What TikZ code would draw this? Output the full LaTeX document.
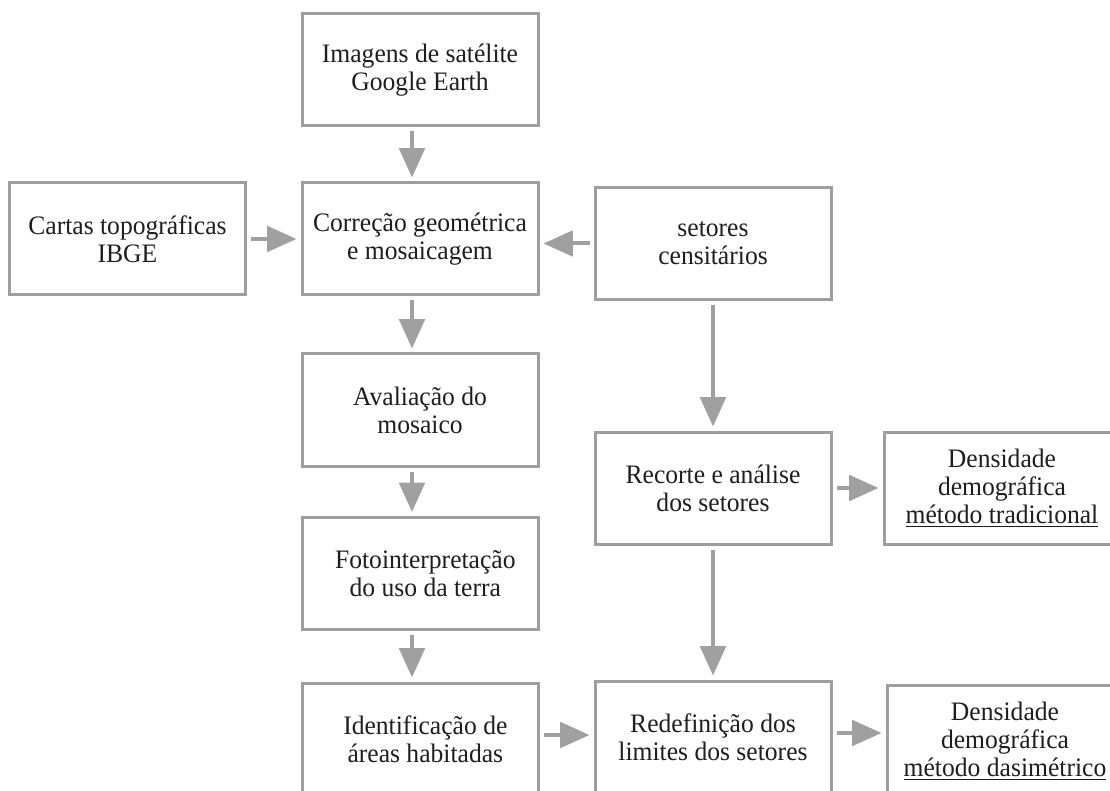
\documentclass[tikz,border=0pt]{standalone}
\usepackage{fontspec}
\setmainfont[FakeStretch=0.96]{Liberation Serif}
\usetikzlibrary{arrows.meta}
\definecolor{boxgray}{RGB}{158,158,158}
\definecolor{arrowgray}{RGB}{160,160,160}
\definecolor{txtgray}{RGB}{30,30,30}

\begin{document}
\begin{tikzpicture}[x=0.75pt,y=0.75pt,yscale=-1,xscale=1,
  etapa/.style={draw=boxgray,line width=2.25pt,fill=white,text=txtgray,align=center,
    minimum width=177pt,minimum height=84pt,inner sep=0pt,
    font=\fontsize{20}{21}\selectfont},
  fluxo/.style={draw=arrowgray,line width=3pt,-{Triangle[length=22pt,width=19pt]},
    shorten <=3pt,shorten >=3pt}]
%set diagram size, 1110 x 791
\useasboundingbox (0,0) rectangle (1110,791);
\clip (0,0) rectangle (1110,791);

% Text Node
\node[etapa] (img) at (420,70) {Imagens de satélite\\Google Earth};
% Text Node
\node[etapa] (cart) at (127.5,239) {Cartas topográficas\\IBGE};
% Text Node
\node[etapa] (cor) at (420,239) {Correção geométrica\\e mosaicagem};
% Text Node
\node[etapa] (set) at (713,243.5) {setores\\censitários};
% Text Node
\node[etapa] (ava) at (420,410) {Avaliação do\\mosaico};
% Text Node
\node[etapa] (foto) at (420,573.5) {\hspace{8pt}Fotointerpretação\\\hspace{8pt}do uso da terra};
% Text Node
\node[etapa] (idt) at (420,739) {\hspace{8pt}Identificação de\\\hspace{8pt}áreas habitadas};
% Text Node
\node[etapa] (rec) at (713,488) {Recorte e análise\\dos setores};
% Text Node
\node[etapa] (red) at (713,737) {Redefinição dos\\limites dos setores};
% Text Node
\node[etapa] (den1) at (1002,488) {Densidade\\demográfica\\\underline{método tradicional}};
% Text Node
\node[etapa] (den2) at (1005,741) {Densidade\\demográfica\\\underline{método dasimétrico}};

%Straight Lines
\draw[fluxo] ([xshift=-6pt]img.south) -- ([xshift=-6pt]cor.north);
\draw[fluxo] (cart.east) -- (cart.east -| cor.west);
\draw[fluxo] (set.west) -- (set.west -| cor.east);
\draw[fluxo] ([xshift=-6pt]cor.south) -- ([xshift=-6pt]ava.north);
\draw[fluxo] ([xshift=-6pt]ava.south) -- ([xshift=-6pt]foto.north);
\draw[fluxo] ([xshift=-6pt]foto.south) -- ([xshift=-6pt]idt.north);
\draw[fluxo] (set.south) -- (rec.north);
\draw[fluxo] (rec.south) -- (red.north);
\draw[fluxo] ([yshift=-3pt]idt.east) -- ([yshift=-3pt]idt.east -| red.west);
\draw[fluxo] (rec.east) -- (rec.east -| den1.west);
\draw[fluxo] ([yshift=-3pt]red.east) -- ([yshift=-3pt]red.east -| den2.west);

\end{tikzpicture}
\end{document}
